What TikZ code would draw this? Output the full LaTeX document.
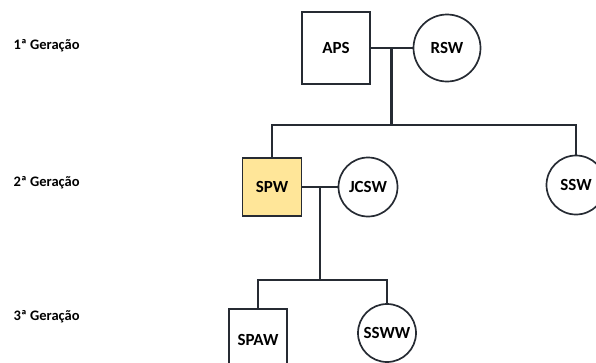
\documentclass[tikz,border=0pt]{standalone}
\usepackage{fontspec}
\setmainfont{Carlito}
\usepackage{tikz}
\usetikzlibrary{calc}
\definecolor{pedline}{HTML}{262B33}
\definecolor{pedyellow}{HTML}{FFE699}
\tikzset{
    male/.style={draw=pedline, line width=1.7pt, rectangle, minimum width=60pt, minimum height=60pt, inner sep=0pt, font=\fontsize{17}{20}\selectfont\bfseries},
    female/.style={draw=pedline, line width=1.7pt, circle, minimum size=60pt, inner sep=0pt, font=\fontsize{17}{20}\selectfont\bfseries},
    genlabel/.style={anchor=west, font=\fontsize{14.5}{17}\selectfont\bfseries},
    link/.style={draw=pedline, line width=2.8pt}
}

\begin{document}
\begin{tikzpicture}[x=1pt, y=-1pt]
    \useasboundingbox (0,0) rectangle (596,362);

    % generation labels
    \node[genlabel] (gen1) at (10, 46) {1ª Geração};
    \node[genlabel] (gen2) at (10, 183) {2ª Geração};
    \node[genlabel] (gen3) at (10, 317) {3ª Geração};

    % 1st generation
    \node[male, minimum width=68pt, minimum height=72pt] (aps) at (336, 48) {APS};
    \node[female, minimum size=67pt] (rsw) at (447, 48) {RSW};

    % 2nd generation
    \node[male, fill=pedyellow, minimum width=59pt, minimum height=58pt] (spw) at (272, 187) {SPW};
    \node[female, minimum size=59pt] (jcsw) at (368, 187) {JCSW};
    \node[female, minimum size=59pt] (ssw) at (576, 185) {SSW};

    % 3rd generation
    \node[male, minimum width=58pt, minimum height=62pt] (spaw) at (258, 340) {SPAW};
    \node[female, minimum size=58pt] (ssww) at (387, 333) {SSWW};

    % couples and children
    \draw[link] (aps.east) -- (rsw.west);
    \coordinate (m1) at ($(aps.east)!0.5!(rsw.west)$);
    \coordinate (bar1) at (m1 |- 0,125);
    \draw[link] (m1) -- (bar1);
    \draw[link] (spw.north) |- (bar1) -| (ssw.north);

    \draw[link] (spw.east) -- (jcsw.west);
    \coordinate (m2) at ($(spw.east)!0.5!(jcsw.west)$);
    \coordinate (bar2) at (m2 |- 0,280);
    \draw[link] (m2) -- (bar2);
    \draw[link] (spaw.north) |- (bar2) -| (ssww.north);
\end{tikzpicture}
\end{document}
